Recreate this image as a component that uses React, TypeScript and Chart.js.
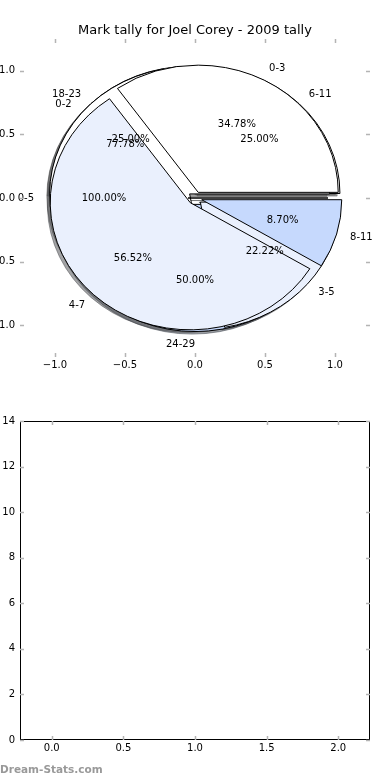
import React, { useEffect, useRef } from 'react';
import { Chart, registerables } from 'chart.js';

Chart.register(...registerables);

const TITLE = 'Mark tally for Joel Corey - 2009 tally';
const WATERMARK = 'Dream-Stats.com';

// Pies (drawn in this order, last on top)
const pieBLabels = ['6-11', '18-23', '24-29'];
const pieBValues = [1, 1, 2];
const pieCLabels = ['0-2', '3-5'];
const pieCValues = [7, 2];
const pieDLabels = ['0-5'];
const pieDValues = [1];
const pieALabels = ['0-3', '4-7', '8-11'];
const pieAValues = [8, 13, 2];

const pieAxisTicks = [-1, -0.5, 0, 0.5, 1];
const barXTicks = [0, 0.5, 1, 1.5, 2];
const barYTicks = [0, 2, 4, 6, 8, 10, 12, 14];

const WEDGE_COLORS = ['#ffffff', '#eaf0fd', '#c6d9fd'];
const EXPLODE = 0.05;
const SHADOW_OFF = -0.02;
const LABEL_DIST = 1.1;
const PCT_DIST = 0.6;
const FONT = '"DejaVu Sans", sans-serif';

const PIES = [
  { labels: pieBLabels, values: pieBValues },
  { labels: pieCLabels, values: pieCValues },
  { labels: pieDLabels, values: pieDValues },
  { labels: pieALabels, values: pieAValues },
];

function hexToRgb(h: string) {
  const n = parseInt(h.slice(1), 16);
  return [(n >> 16) & 255, (n >> 8) & 255, n & 255];
}

function buildWedges(labels: string[], values: number[]) {
  const total = values.reduce((a, b) => a + b, 0);
  let t1 = 0;
  return values.map((v, i) => {
    const frac = v / total;
    const t2 = t1 + frac;
    const tm = Math.PI * (t1 + t2);
    const cx = EXPLODE * Math.cos(tm);
    const cy = EXPLODE * Math.sin(tm);
    const a1 = 2 * Math.PI * t1;
    const a2 = 2 * Math.PI * t2;
    // old matplotlib arc: a full 360 degree span collapses to an empty arc
    const degenerate = a2 - a1 >= 2 * Math.PI - 1e-9;
    const w = {
      a1,
      a2,
      degenerate,
      cx,
      cy,
      tm,
      frac,
      label: labels[i],
      color: WEDGE_COLORS[i % WEDGE_COLORS.length],
    };
    t1 = t2;
    return w;
  });
}

const fmtAxis = (v: number) => v.toFixed(1).replace('-', '\u2212');

const inwardTicks = (frame: boolean) => ({
  id: 'inwardTicks',
  afterDraw(chart: any) {
    const { ctx, chartArea: a, scales } = chart;
    ctx.save();
    if (frame) {
      ctx.strokeStyle = '#000';
      ctx.lineWidth = 1;
      ctx.strokeRect(Math.round(a.left) + 0.5, Math.round(a.top) + 0.5, Math.round(a.right - a.left) - 1, Math.round(a.bottom - a.top) - 1);
    }
    ctx.strokeStyle = '#b4b4b4';
    ctx.lineWidth = 1.5;
    const L = 4;
    scales.x.ticks.forEach((t: any) => {
      const x = Math.round(scales.x.getPixelForValue(t.value)) + 0.5;
      ctx.beginPath();
      ctx.moveTo(x, a.top); ctx.lineTo(x, a.top + L);
      ctx.moveTo(x, a.bottom); ctx.lineTo(x, a.bottom - L);
      ctx.stroke();
    });
    scales.y.ticks.forEach((t: any) => {
      const y = Math.round(scales.y.getPixelForValue(t.value)) + 0.5;
      ctx.beginPath();
      ctx.moveTo(a.left, y); ctx.lineTo(a.left + L, y);
      ctx.moveTo(a.right, y); ctx.lineTo(a.right - L, y);
      ctx.stroke();
    });
    ctx.restore();
  },
});

const piePlugin = {
  id: 'pies',
  beforeDatasetsDraw(chart: any) {
    const { ctx, scales } = chart;
    const xs = scales.x, ys = scales.y;
    const px = (v: number) => xs.getPixelForValue(v);
    const py = (v: number) => ys.getPixelForValue(v);
    const rx = Math.abs(px(1) - px(0));
    const ry = Math.abs(py(1) - py(0));
    const all = PIES.map((p) => buildWedges(p.labels, p.values));

    const path = (w: any, ox: number, oy: number) => {
      const cx = px(w.cx + ox), cy = py(w.cy + oy);
      ctx.beginPath();
      ctx.moveTo(cx, cy);
      if (w.degenerate) {
        ctx.lineTo(px(w.cx + ox + Math.cos(w.a1)), py(w.cy + oy + Math.sin(w.a1)));
      } else {
        ctx.ellipse(cx, cy, rx, ry, 0, -w.a1, -w.a2, true);
      }
      ctx.closePath();
    };

    ctx.save();
    // shadows (below all wedges)
    all.forEach((ws) => ws.forEach((w) => {
      const [r, g, b] = hexToRgb(w.color);
      const c = `rgba(${Math.round(r * 0.3)},${Math.round(g * 0.3)},${Math.round(b * 0.3)},0.5)`;
      path(w, SHADOW_OFF, SHADOW_OFF);
      ctx.fillStyle = c;
      ctx.fill();
      ctx.strokeStyle = c;
      ctx.lineWidth = 1;
      ctx.stroke();
    }));
    // wedges
    all.forEach((ws) => ws.forEach((w) => {
      path(w, 0, 0);
      ctx.fillStyle = w.color;
      ctx.fill();
      ctx.strokeStyle = '#000';
      ctx.lineWidth = 1;
      ctx.stroke();
    }));
    // texts
    ctx.fillStyle = '#000';
    ctx.font = `10px ${FONT}`;
    ctx.textBaseline = 'middle';
    all.forEach((ws) => ws.forEach((w) => {
      const xt = w.cx + LABEL_DIST * Math.cos(w.tm);
      const yt = w.cy + LABEL_DIST * Math.sin(w.tm);
      ctx.textAlign = xt > 0 ? 'left' : 'right';
      ctx.fillText(w.label, px(xt), py(yt));
      const xp = w.cx + PCT_DIST * Math.cos(w.tm);
      const yp = w.cy + PCT_DIST * Math.sin(w.tm);
      ctx.textAlign = 'center';
      ctx.fillText((w.frac * 100).toFixed(2) + '%', px(xp), py(yp));
    }));
    ctx.restore();
  },
};

export default function App() {
  const topRef = useRef<HTMLCanvasElement>(null);
  const botRef = useRef<HTMLCanvasElement>(null);

  useEffect(() => {
    Chart.defaults.font.family = FONT;
    Chart.defaults.color = '#000';
    const tickFont = { size: 10, family: FONT };

    const top = new Chart(topRef.current!, {
      type: 'scatter',
      data: { datasets: [] },
      options: {
        responsive: false,
        animation: false,
        layout: { padding: { left: 0, right: 0, top: 0, bottom: 0 } },
        plugins: {
          legend: { display: false },
          tooltip: { enabled: false },
          title: {
            display: true,
            text: TITLE,
            color: '#000',
            font: { size: 13, weight: 'normal', family: FONT },
            padding: { top: 22.5, bottom: 0.9 },
          },
        },
        scales: {
          x: {
            type: 'linear',
            min: -1.25,
            max: 1.25,
            grid: { display: false, drawTicks: false, tickLength: 0 },
            border: { display: false },
            afterBuildTicks: (s: any) => { s.ticks = pieAxisTicks.map((v) => ({ value: v })); },
            afterFit: (s: any) => { s.height = 33; },
            ticks: { font: tickFont, padding: 2, maxRotation: 0, callback: (v: any) => fmtAxis(Number(v)) },
          },
          y: {
            type: 'linear',
            min: -1.25,
            max: 1.25,
            grid: { display: false, drawTicks: false, tickLength: 0 },
            border: { display: false },
            afterBuildTicks: (s: any) => { s.ticks = pieAxisTicks.map((v) => ({ value: v })); },
            afterFit: (s: any) => { s.width = 20; },
            ticks: { font: tickFont, padding: 5, callback: (v: any) => fmtAxis(Number(v)) },
          },
          yRight: {
            type: 'linear',
            position: 'right',
            min: -1.25,
            max: 1.25,
            grid: { display: false, drawTicks: false, tickLength: 0 },
            border: { display: false },
            ticks: { display: false },
            afterFit: (s: any) => { s.width = 20; },
          },
        },
      } as any,
      plugins: [piePlugin, inwardTicks(false)],
    });

    const bot = new Chart(botRef.current!, {
      type: 'scatter',
      data: { datasets: [] },
      options: {
        responsive: false,
        animation: false,
        layout: { padding: { left: 0, right: 20, top: 31, bottom: 0 } },
        plugins: { legend: { display: false }, tooltip: { enabled: false }, title: { display: false } },
        scales: {
          x: {
            type: 'linear',
            min: -0.2214,
            max: 2.2214,
            grid: { display: false, drawTicks: false, tickLength: 0 },
            border: { display: false },
            afterBuildTicks: (s: any) => { s.ticks = barXTicks.map((v) => ({ value: v })); },
            afterFit: (s: any) => { s.height = 40; },
            ticks: { font: tickFont, padding: 2, maxRotation: 0, callback: (v: any) => fmtAxis(Number(v)) },
          },
          y: {
            type: 'linear',
            min: 0,
            max: 14,
            grid: { display: false, drawTicks: false, tickLength: 0 },
            border: { display: false },
            afterBuildTicks: (s: any) => { s.ticks = barYTicks.map((v) => ({ value: v })); },
            afterFit: (s: any) => { s.width = 20; },
            ticks: { font: tickFont, padding: 5, callback: (v: any) => String(Math.round(Number(v))) },
          },
        },
      } as any,
      plugins: [inwardTicks(true)],
    });

    return () => { top.destroy(); bot.destroy(); };
  }, []);

  return (
    <div style={{ position: 'absolute', left: 0, top: 0, width: 390, height: 780, background: '#fff', overflow: 'hidden' }}>
      <canvas ref={topRef} width={390} height={390} style={{ position: 'absolute', left: 0, top: 0, width: 390, height: 390 }} />
      <canvas ref={botRef} width={390} height={390} style={{ position: 'absolute', left: 0, top: 390, width: 390, height: 390 }} />
      <div style={{ position: 'absolute', left: 0, top: 762, font: `bold 10.5px ${FONT}`, color: '#999999', lineHeight: '14px', whiteSpace: 'nowrap' }}>
        {WATERMARK}
      </div>
    </div>
  );
}
